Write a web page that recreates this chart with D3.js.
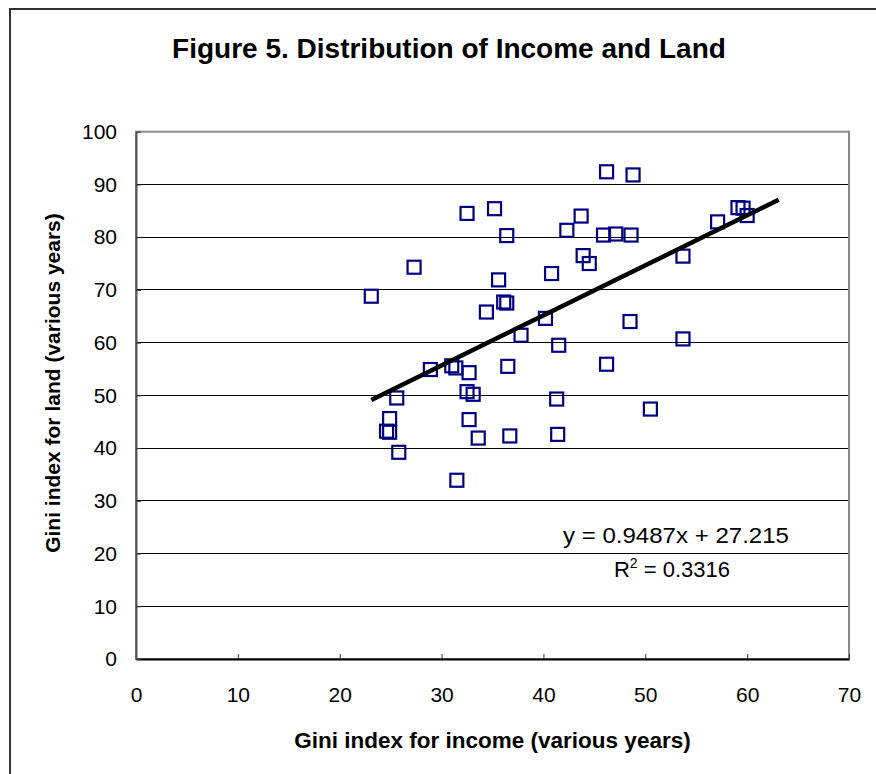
<!DOCTYPE html>
<html>
<head>
<meta charset="utf-8">
<script src="https://cdn.jsdelivr.net/npm/d3@7"></script>
<style>
  body { margin: 0; background: #fff; }
  text { font-family: "Liberation Sans", Arial, sans-serif; }
</style>
</head>
<body>
<div id="chart"></div>
<script>
// income gini (x) and land gini (y)
var incomeGini = [23.1, 24.6, 24.9, 24.9, 25.6, 25.8, 27.3, 28.9, 31.0, 31.4,
                  31.5, 32.5, 32.5, 32.7, 32.7, 33.1, 33.6, 34.4, 35.2, 35.6,
                  36.1, 36.4, 36.4, 36.5, 36.7, 37.8, 40.2, 40.8, 41.3, 41.4,
                  41.5, 42.3, 43.7, 43.9, 44.5, 45.9, 46.2, 46.2, 47.1, 48.5,
                  48.6, 48.8, 50.5, 53.7, 53.7, 57.1, 59.1, 59.6, 60.0];
var landGini   = [68.8, 43.2, 43.0, 45.6, 49.5, 39.2, 74.3, 54.9, 55.6, 55.2,
                  33.9, 84.5, 50.7, 54.3, 45.4, 50.2, 41.9, 65.8, 85.4, 71.9,
                  67.7, 67.5, 80.3, 55.5, 42.3, 61.4, 64.6, 73.1, 49.3, 42.6,
                  59.5, 81.3, 84.0, 76.5, 75.0, 80.4, 92.4, 55.9, 80.6, 64.0,
                  80.4, 91.8, 47.4, 60.7, 76.4, 82.9, 85.6, 85.5, 84.1];

var xTickValues = [0, 10, 20, 30, 40, 50, 60, 70];
var yTickValues = [0, 10, 20, 30, 40, 50, 60, 70, 80, 90, 100];

// linear trendline as printed in the chart
var trendSlope = 0.9487;
var trendIntercept = 27.215;
var trendR2 = 0.3316;
var trendRange = [23.1, 63.1];

var width = 876, height = 774;
var plot = {left: 136, right: 849, top: 131.7, bottom: 659};

var svg = d3.select('#chart').append('svg')
    .attr('width', width)
    .attr('height', height);

// chart frame
svg.append('rect')
    .attr('x', 10).attr('y', 9)
    .attr('width', width).attr('height', height)
    .attr('fill', '#fff')
    .attr('stroke', '#333')
    .attr('stroke-width', 2);

var x = d3.scaleLinear().domain([0, 70]).range([plot.left, plot.right]);
var y = d3.scaleLinear().domain([0, 100]).range([plot.bottom, plot.top]);

// gridlines
svg.append('g')
    .selectAll('line')
    .data(yTickValues.filter(function (d) { return d > 0 && d < 100; }))
    .enter().append('line')
    .attr('x1', plot.left).attr('x2', plot.right)
    .attr('y1', function (d) { return y(d); })
    .attr('y2', function (d) { return y(d); })
    .attr('stroke', '#000')
    .attr('stroke-width', 1)
    .attr('shape-rendering', 'crispEdges');

// plot area border
svg.append('rect')
    .attr('x', plot.left).attr('y', plot.top)
    .attr('width', plot.right - plot.left)
    .attr('height', plot.bottom - plot.top)
    .attr('fill', 'none')
    .attr('stroke', '#8a8a8a')
    .attr('stroke-width', 2);

// axes, ticks inside
var xAxis = d3.axisBottom(x).tickValues(xTickValues).tickSizeInner(-5).tickSizeOuter(0).tickPadding(28);
var yAxis = d3.axisLeft(y).tickValues(yTickValues).tickSizeInner(-5).tickSizeOuter(0).tickPadding(19);

var gx = svg.append('g')
    .attr('transform', 'translate(0,' + plot.bottom + ')')
    .call(xAxis);
var gy = svg.append('g')
    .attr('transform', 'translate(' + plot.left + ',0)')
    .call(yAxis);

[gx, gy].forEach(function (g) {
    g.attr('font-size', null).attr('font-family', null);
    g.selectAll('text')
        .style('font-family', '"Liberation Sans", Arial, sans-serif')
        .style('font-size', '21px')
        .attr('fill', '#000');
    g.selectAll('line').attr('stroke', '#333');
});
gx.select('.domain').attr('stroke', '#000').attr('stroke-width', 2);
gy.select('.domain').attr('stroke', '#555').attr('stroke-width', 2);

// markers
var markerSize = 13;
svg.append('g')
    .selectAll('rect')
    .data(incomeGini.map(function (v, i) { return [v, landGini[i]]; }))
    .enter().append('rect')
    .attr('x', function (d) { return x(d[0]) - markerSize / 2; })
    .attr('y', function (d) { return y(d[1]) - markerSize / 2; })
    .attr('width', markerSize)
    .attr('height', markerSize)
    .attr('fill', 'none')
    .attr('stroke', '#000080')
    .attr('stroke-width', 2.2);

// trendline
var line = d3.line()
    .x(function (d) { return x(d); })
    .y(function (d) { return y(trendSlope * d + trendIntercept); });

svg.append('path')
    .datum(trendRange)
    .attr('d', line)
    .attr('fill', 'none')
    .attr('stroke', '#000')
    .attr('stroke-width', 4.5);

// trendline label
var labelX = 676;
svg.append('text')
    .attr('x', labelX).attr('y', 543)
    .attr('text-anchor', 'middle')
    .attr('font-size', 22)
    .attr('textLength', 226)
    .attr('lengthAdjust', 'spacingAndGlyphs')
    .text('y = ' + trendSlope + 'x + ' + trendIntercept);

var r2 = svg.append('text')
    .attr('x', labelX - 4).attr('y', 577)
    .attr('text-anchor', 'middle')
    .attr('font-size', 22);
r2.append('tspan').text('R');
r2.append('tspan').attr('font-size', 14).attr('dy', -9).text('2');
r2.append('tspan').attr('dy', 9).text(' = ' + trendR2);

// titles
svg.append('text')
    .attr('x', 449).attr('y', 58)
    .attr('text-anchor', 'middle')
    .attr('font-size', 28)
    .attr('font-weight', 'bold')
    .text('Figure 5. Distribution of Income and Land');

svg.append('text')
    .attr('x', (plot.left + plot.right) / 2).attr('y', 748)
    .attr('text-anchor', 'middle')
    .attr('font-size', 22.5)
    .attr('font-weight', 'bold')
    .text('Gini index for income (various years)');

svg.append('text')
    .attr('transform', 'translate(60,383) rotate(-90)')
    .attr('text-anchor', 'middle')
    .attr('font-size', 21)
    .attr('font-weight', 'bold')
    .text('Gini index for land (various years)');
</script>
</body>
</html>
